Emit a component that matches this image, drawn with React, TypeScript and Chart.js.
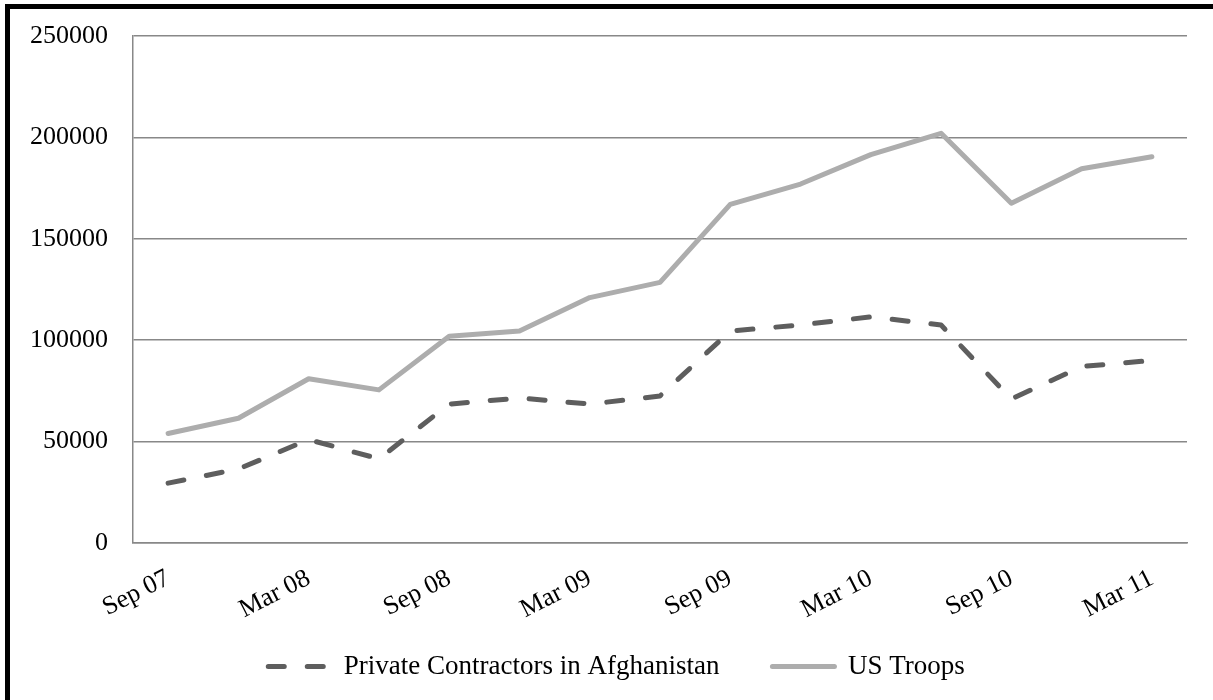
import React, { useEffect, useRef } from "react";
import { Chart, registerables } from "chart.js";

Chart.register(...registerables);

const quarters = [
  "Sep 07", "Dec 07", "Mar 08", "Jun 08", "Sep 08", "Dec 08", "Mar 09", "Jun 09",
  "Sep 09", "Dec 09", "Mar 10", "Jun 10", "Sep 10", "Dec 10", "Mar 11",
];

const contractors = [
  29500, 36500, 51000, 41500, 68500, 71500, 68500, 72500,
  104500, 107500, 111500, 107500, 71000, 87000, 90000,
];

const usTroops = [
  54000, 61500, 81000, 75500, 102000, 104500, 121000, 128500,
  167000, 177000, 191500, 202000, 167500, 184500, 190500,
];

const yTicks = [0, 50000, 100000, 150000, 200000, 250000];

const FONT = "'Liberation Serif', 'Times New Roman', serif";
const DASH = [16, 23];

const noClip = {
  id: "noClip",
  beforeDraw(c: any) {
    Object.values(c.scales).forEach((s: any) => {
      s._computeLabelArea = () => undefined;
    });
  },
};

export default function App() {
  const ref = useRef<HTMLCanvasElement | null>(null);

  useEffect(() => {
    document.body.style.margin = "0";
    document.body.style.overflow = "hidden";
    const canvas = ref.current;
    if (!canvas) return;
    const chart = new Chart(canvas, {
      type: "line",
      data: {
        labels: quarters,
        datasets: [
          {
            label: "Private Contractors in Afghanistan",
            data: contractors,
            borderColor: "#5e5e5e",
            backgroundColor: "#5e5e5e",
            borderWidth: 5,
            borderDash: DASH,
            borderCapStyle: "round",
            borderJoinStyle: "round",
            pointRadius: 0,
            tension: 0,
          },
          {
            label: "US Troops",
            data: usTroops,
            borderColor: "#adadad",
            backgroundColor: "#adadad",
            borderWidth: 5,
            borderCapStyle: "round",
            borderJoinStyle: "round",
            pointRadius: 0,
            tension: 0,
          },
        ],
      },
      plugins: [noClip],
      options: {
        responsive: false,
        animation: false,
        layout: { padding: { left: 46, right: 26, top: 36, bottom: 10 } },
        plugins: {
          tooltip: { enabled: false },
          legend: {
            position: "bottom",
            labels: {
              font: { family: FONT, size: 27 },
              color: "#000",
              usePointStyle: true,
              pointStyle: "line",
              pointStyleWidth: 62,
              padding: 53,
              generateLabels: (c: any) => {
                const items = Chart.defaults.plugins.legend.labels.generateLabels(c);
                return items.map((it: any, i: number) => {
                  const ds: any = c.data.datasets[i];
                  return {
                    ...it,
                    strokeStyle: ds.borderColor,
                    fillStyle: ds.borderColor,
                    lineWidth: 5,
                    lineDash: ds.borderDash || [],
                    lineCap: "round",
                    pointStyle: "line",
                  };
                });
              },
            },
          },
        },
        scales: {
          x: {
            offset: true,
            grid: { display: false, drawTicks: false },
            border: { display: true, color: "#888888", width: 1.5 },
            afterFit: (s: any) => {
              s.height = 57;
              s.paddingLeft = 0;
              s.paddingRight = 0;
            },
            ticks: {
              autoSkip: false,
              minRotation: 27,
              maxRotation: 27,
              padding: 20,
              color: "#000",
              font: { family: FONT, size: 26 },
              callback: (_v: any, i: number) => (i % 2 === 0 ? quarters[i] : ""),
            },
          },
          y: {
            min: 0,
            max: 250000,
            afterBuildTicks: (axis: any) => {
              axis.ticks = yTicks.map((v) => ({ value: v }));
            },
            afterFit: (s: any) => {
              s.width = 87;
              s.paddingTop = 0;
              s.paddingBottom = 0;
            },
            grid: { color: "#888888", lineWidth: 1.5, drawTicks: false },
            border: { display: true, color: "#888888", width: 1.5 },
            ticks: {
              padding: 25,
              color: "#000",
              font: { family: FONT, size: 26 },
              callback: (v: any) => String(v),
            },
          },
        },
      },
    });
    return () => chart.destroy();
  }, []);

  return (
    <div
      style={{
        position: "fixed",
        left: 0,
        top: 0,
        width: 1213,
        height: 700,
        overflow: "hidden",
        background: "#fff",
      }}
    >
      <canvas
        ref={ref}
        width={1213}
        height={700}
        style={{ position: "absolute", left: 0, top: 0, display: "block" }}
      />
      <div
        style={{
          position: "absolute",
          left: 5,
          top: 4,
          width: 1400,
          height: 900,
          border: "5px solid #000",
          boxSizing: "border-box",
          pointerEvents: "none",
        }}
      />
    </div>
  );
}
